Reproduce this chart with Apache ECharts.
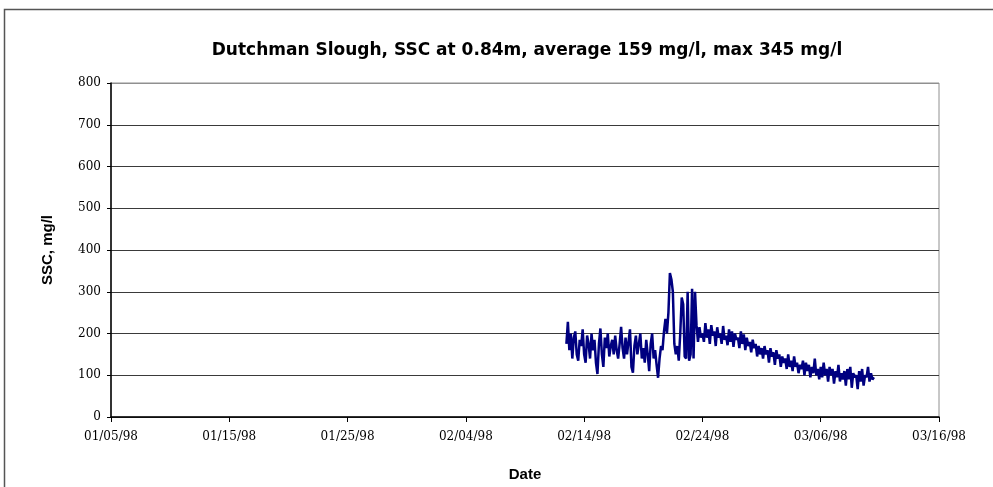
<!DOCTYPE html>
<html>
<head>
<meta charset="utf-8">
<script src="https://cdn.jsdelivr.net/npm/echarts@6/dist/echarts.min.js"></script>
<style>
  html, body { margin: 0; padding: 0; background: #fff; }
  #chart { width: 993px; height: 487px; }
</style>
</head>
<body>
<div id="chart"></div>
<script>
// x values are days after 01/05/98; ticks every 10 days
const axisStartDate = [1998, 0, 5];
const xMin = 0;
const xMax = 70;
const xInterval = 10;
const yTicks = [0, 100, 200, 300, 400, 500, 600, 700, 800];

// first sample 02/12/98 12:00, then every 3 hours
const firstSampleDay = 38.5;
const sampleStepDays = 0.125;

// SSC, mg/l (8 samples a day)
const ssc = [
  175, 228, 160, 200,                       // 02/12
  140, 190, 205, 150, 135, 185, 170, 210,   // 02/13
  150, 130, 195, 175, 140, 200, 160, 185,   // 02/14
  130, 103, 175, 212, 150, 120, 190, 165,   // 02/15
  200, 145, 170, 185, 150, 195, 160, 140,   // 02/16
  175, 216, 165, 140, 190, 150, 180, 210,   // 02/17
  120, 106, 170, 195, 150, 175, 200, 140,   // 02/18
  165, 130, 185, 150, 110, 175, 200, 140,   // 02/19
  160, 125, 94, 140, 170, 160, 205, 235,    // 02/20
  200, 250, 345, 330, 300, 175, 150, 170,   // 02/21
  135, 200, 286, 270, 145, 140, 300, 135,   // 02/22
  150, 307, 140, 300, 220, 180, 215, 190,   // 02/23
  200, 180, 225, 190, 210, 175, 220, 195,   // 02/24
  205, 170, 215, 190, 200, 175, 218, 185,   // 02/25
  195, 172, 210, 180, 205, 168, 200, 185,   // 02/26
  190, 165, 205, 175, 198, 160, 190, 170,   // 02/27
  180, 155, 185, 165, 175, 145, 170, 150,   // 02/28
  165, 140, 170, 150, 160, 130, 165, 145,   // 03/01
  155, 125, 160, 140, 150, 120, 145, 130,   // 03/02
  140, 115, 150, 120, 135, 110, 145, 120,   // 03/03
  130, 105, 125, 115, 135, 100, 130, 110,   // 03/04
  125, 95, 120, 105, 140, 100, 115, 90,     // 03/05
  120, 95, 130, 100, 115, 85, 120, 100,     // 03/06
  115, 80, 110, 95, 125, 85, 105, 90,       // 03/07
  110, 75, 115, 90, 120, 70, 105, 95,       // 03/08
  100, 67, 110, 85, 115, 75, 100, 95,       // 03/09
  120, 85, 105, 90, 95                      // 03/10
];

const seriesData = ssc.map((v, i) => [firstSampleDay + i * sampleStepDays, v]);

function pad(n) { return (n < 10 ? '0' : '') + n; }
function dayLabel(d) {
  const dt = new Date(Date.UTC(axisStartDate[0], axisStartDate[1], axisStartDate[2] + Math.round(d)));
  return pad(dt.getUTCMonth() + 1) + '/' + pad(dt.getUTCDate()) + '/' + pad(dt.getUTCFullYear() % 100);
}

// dark grid lines, the top one (800) is the grey plot border
const gridColors = yTicks.map((t, i) => (i === yTicks.length - 1 ? '#909090' : '#3a3a3a'));

const chart = echarts.init(document.getElementById('chart'));
chart.setOption({
  backgroundColor: '#fff',
  animation: false,
  graphic: [{
    type: 'rect',
    shape: { x: 4.5, y: 9.5, width: 1000, height: 500 },
    style: { fill: 'none', stroke: '#555', lineWidth: 1.5 },
    silent: true
  }],
  title: {
    text: 'Dutchman Slough, SSC at 0.84m, average 159 mg/l, max 345 mg/l',
    left: 522,
    top: 37,
    textAlign: 'center',
    textStyle: { fontFamily: 'DejaVu Sans', fontSize: 17, fontWeight: 'bold', color: '#000' }
  },
  grid: {
    left: 111, right: 54, top: 83, bottom: 70,
    show: true, borderColor: '#909090', borderWidth: 1
  },
  xAxis: {
    type: 'value',
    min: xMin, max: xMax, interval: xInterval,
    name: 'Date',
    nameLocation: 'middle',
    nameGap: 50,
    nameTextStyle: { fontFamily: 'Liberation Sans', fontSize: 15, fontWeight: 'bold', color: '#000' },
    axisLine: { lineStyle: { color: '#000', width: 1.5 } },
    axisTick: { show: true, inside: false, length: 5, lineStyle: { color: '#000' } },
    axisLabel: {
      formatter: dayLabel,
      fontFamily: 'DejaVu Serif', fontSize: 12, color: '#000', margin: 14
    },
    splitLine: { show: false }
  },
  yAxis: {
    type: 'value',
    min: 0, max: 800, interval: 100,
    name: 'SSC, mg/l',
    nameLocation: 'middle',
    nameRotate: 90,
    nameGap: 56,
    nameTextStyle: { fontFamily: 'Liberation Sans', fontSize: 15, fontWeight: 'bold', color: '#000' },
    axisLine: { show: true, lineStyle: { color: '#000', width: 1.5 } },
    axisTick: { show: true, inside: false, length: 4, lineStyle: { color: '#000' } },
    axisLabel: { fontFamily: 'DejaVu Serif', fontSize: 12, color: '#000', margin: 10 },
    splitLine: { show: true, lineStyle: { color: gridColors, width: 1 } }
  },
  series: [{
    type: 'line',
    data: seriesData,
    showSymbol: false,
    lineStyle: { color: '#000080', width: 2.5 },
    itemStyle: { color: '#000080' }
  }]
});
</script>
</body>
</html>
